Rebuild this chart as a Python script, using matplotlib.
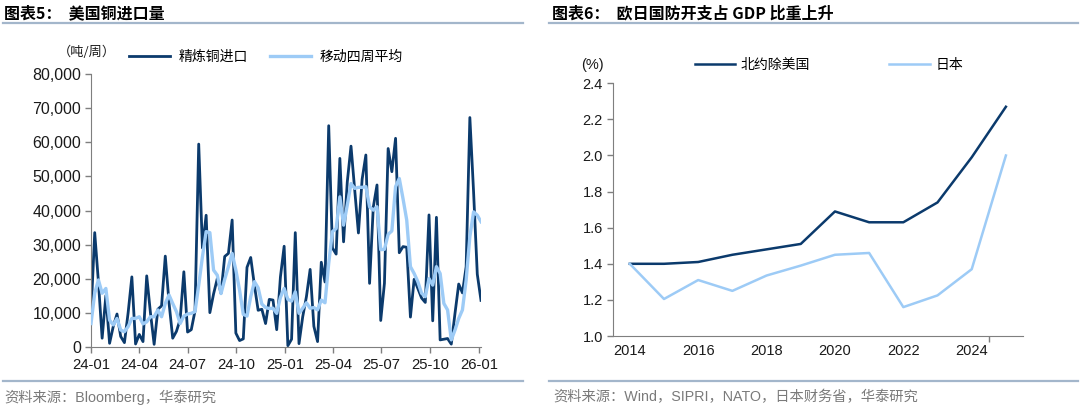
import pandas as pd
import matplotlib
matplotlib.use("Agg")
import matplotlib.pyplot as plt
import matplotlib.dates as mdates
from matplotlib.lines import Line2D
from matplotlib.ticker import FuncFormatter, FixedLocator

plt.rcParams['font.family'] = ['Liberation Sans', 'Noto Sans CJK SC', 'DejaVu Sans']

# 图表5 数据：美国精炼铜周度进口（吨/周），2024-01 起每周一个点
weeks = pd.date_range('2024-01-01', periods=106, freq='7D')
copper_imports = [
    9500, 33500, 19000, 2500, 15000, 1000, 6000, 9600, 3000, 1200,
    10000, 20500, 800, 3600, 1500, 20800, 10000, 700, 11000, 12000,
    26600, 13000, 2500, 4500, 8000, 22000, 4300, 5000, 10500, 59500,
    29000, 38600, 10000, 15500, 20000, 15700, 26500, 27400, 37200, 4000,
    1800, 2300, 23300, 26200, 18000, 10700, 11000, 6800, 13900, 13700,
    5000, 20500, 29500, 300, 2200, 33500, 900, 8800, 14700, 22700,
    6000, 1500, 24800, 19000, 64900, 29000, 27200, 55300, 30800, 48400,
    58900, 46000, 33400, 49200, 56300, 18600, 41000, 47500, 7700, 18600,
    58200, 51400, 61200, 27600, 29400, 29200, 8700, 19800, 17100, 14300,
    13000, 38700, 7600, 38000, 2000, 2200, 2400, 750, 9800, 18400,
    15800, 23500, 67300, 45500, 21300, 13600,
]
copper_ma4 = [
    6800, 15700, 19600, 15700, 17100, 7800, 6400, 8300, 4900, 4400,
    5900, 8300, 8300, 8800, 6700, 7300, 8800, 8800, 10800, 8800,
    12700, 15200, 12700, 10300, 6800, 9000, 9600, 9800, 10300, 18100,
    26400, 33800, 33500, 22500, 21000, 15600, 19800, 23500, 27400, 22500,
    16600, 9500, 9000, 14700, 19100, 17300, 12500, 11500, 11200, 11300,
    9800, 14500, 17100, 13900, 13400, 16100, 9800, 11300, 12900, 11300,
    11500, 10800, 13700, 12900, 24500, 33800, 34700, 44000, 35700, 41600,
    47900, 46500, 46800, 46800, 47000, 41100, 40100, 41100, 28500, 28600,
    33000, 34000, 47000, 49400, 43500, 37200, 23500, 21500, 19100, 15700,
    14700, 20000, 18100, 23500, 21500, 12700, 10800, 2000, 4900, 8300,
    10800, 19600, 32300, 39600, 38600, 36700,
]

# 图表6 数据：国防开支占 GDP 比重（%）
years = [2014, 2015, 2016, 2017, 2018, 2019, 2020, 2021, 2022, 2023, 2024, 2025]
nato_ex_us = [1.40, 1.40, 1.41, 1.45, 1.48, 1.51, 1.69, 1.63, 1.63, 1.74, 1.99, 2.27]
japan = [1.40, 1.205, 1.31, 1.25, 1.335, 1.39, 1.45, 1.46, 1.16, 1.225, 1.37, 2.00]

DARK = '#0b3a6c'
LIGHT = '#9dcbf6'
RULE = '#a3b6cb'
AXC = '#7f7f7f'
W, H = 1080, 411


def fx(x):
    return x / W


def fy(y):
    return 1 - y / H


fig = plt.figure(figsize=(10.8, 4.11), dpi=100)

# 标题、分隔线、资料来源
for x0, x1 in [(3, 523), (549, 1078)]:
    fig.add_artist(Line2D([fx(x0), fx(x1)], [fy(23.5), fy(23.5)], color=RULE, lw=1.6))
    fig.add_artist(Line2D([fx(x0), fx(x1)], [fy(380.5), fy(380.5)], color=RULE, lw=1.6))

fig.text(fx(4), fy(13), '图表5：  美国铜进口量', fontsize=11.5, fontweight='bold',
         family=['Noto Sans CJK SC'], va='center', ha='left')
fig.text(fx(552), fy(13), '图表6：  欧日国防开支占 GDP 比重上升', fontsize=11.5, fontweight='bold',
         family=['Noto Sans CJK SC'], va='center', ha='left')
fig.text(fx(4), fy(397), '资料来源：Bloomberg，华泰研究', fontsize=10.3, color='#7a7a7a',
         va='center', ha='left')
fig.text(fx(553), fy(397), '资料来源：Wind，SIPRI，NATO，日本财务省，华泰研究', fontsize=10.3,
         color='#7a7a7a', va='center', ha='left')

# ---- 左图 ----
ax1 = fig.add_axes([fx(91), fy(346.7), fx(481 - 91), (346.7 - 74.3) / H])
ax1.plot(weeks, copper_imports, color=DARK, lw=2.0, label='精炼铜进口', zorder=2)
ax1.plot(weeks, copper_ma4, color=LIGHT, lw=2.4, label='移动四周平均', zorder=3)
ax1.set_ylim(0, 80000)
ax1.set_xlim(pd.Timestamp('2024-01-01'), pd.Timestamp('2026-01-05'))
ax1.set_yticks(range(0, 80001, 10000))
ax1.yaxis.set_major_formatter(FuncFormatter(lambda v, p: f'{int(v):,}'))
ax1.xaxis.set_major_locator(mdates.MonthLocator(bymonth=[1, 4, 7, 10]))
ax1.xaxis.set_major_formatter(mdates.DateFormatter('%y-%m'))
ax1.tick_params(axis='y', labelsize=11.5, length=4, width=1, color=AXC, pad=3, labelcolor='#1a1a1a')
ax1.tick_params(axis='x', labelsize=10.7, length=4, width=1, color=AXC, pad=4, labelcolor='#1a1a1a')
for s in ['top', 'right']:
    ax1.spines[s].set_visible(False)
for s in ['left', 'bottom']:
    ax1.spines[s].set_color(AXC)
ax1.legend(loc='center left', bbox_to_anchor=(fx(129), fy(57)), bbox_transform=fig.transFigure,
           ncol=2, frameon=False, handlelength=2.95, handletextpad=0.6,
           columnspacing=1.6, borderpad=0, borderaxespad=0,
           prop={'family': ['Noto Sans CJK SC'], 'size': 10})
fig.text(fx(58), fy(52.5), '（吨/周）', fontsize=9.5, family=['Noto Sans CJK SC'],
         va='center', ha='left', color='#1a1a1a')

# ---- 右图 ----
ax2 = fig.add_axes([fx(612.7), fy(336), fx(1023 - 612.7), (336 - 83.3) / H])
xpos = list(range(len(years)))
ax2.plot(xpos, nato_ex_us, color=DARK, lw=1.8, label='北约除美国')
ax2.plot(xpos, japan, color=LIGHT, lw=1.8, label='日本')
ax2.set_ylim(1.0, 2.4)
ax2.set_yticks([1.0, 1.2, 1.4, 1.6, 1.8, 2.0, 2.2, 2.4])
ax2.yaxis.set_major_formatter(FuncFormatter(lambda v, p: f'{v:.1f}'))
ax2.set_xlim(-0.5, len(years) - 0.5)
ax2.set_xticks(xpos[::2])
ax2.set_xticklabels([str(y) for y in years[::2]])
ax2.xaxis.set_minor_locator(FixedLocator([10.5]))
ax2.tick_params(axis='x', which='major', length=0, labelsize=10.5, pad=6, labelcolor='#1a1a1a')
ax2.tick_params(axis='x', which='minor', length=4, width=1, color=AXC)
ax2.tick_params(axis='y', labelsize=10.5, length=4, width=1, color=AXC, pad=3, labelcolor='#1a1a1a')
for s in ['top', 'right']:
    ax2.spines[s].set_visible(False)
for s in ['left', 'bottom']:
    ax2.spines[s].set_color(AXC)
ax2.legend(loc='center left', bbox_to_anchor=(fx(695), fy(65)), bbox_transform=fig.transFigure,
           ncol=2, frameon=False, handlelength=2.9, handletextpad=0.4,
           columnspacing=5.7, borderpad=0, borderaxespad=0,
           prop={'family': ['Noto Sans CJK SC'], 'size': 10})
fig.text(fx(581), fy(65), '(%)', fontsize=10.5, va='center', ha='left', color='#1a1a1a')

fig.savefig('out.png', dpi=100)
